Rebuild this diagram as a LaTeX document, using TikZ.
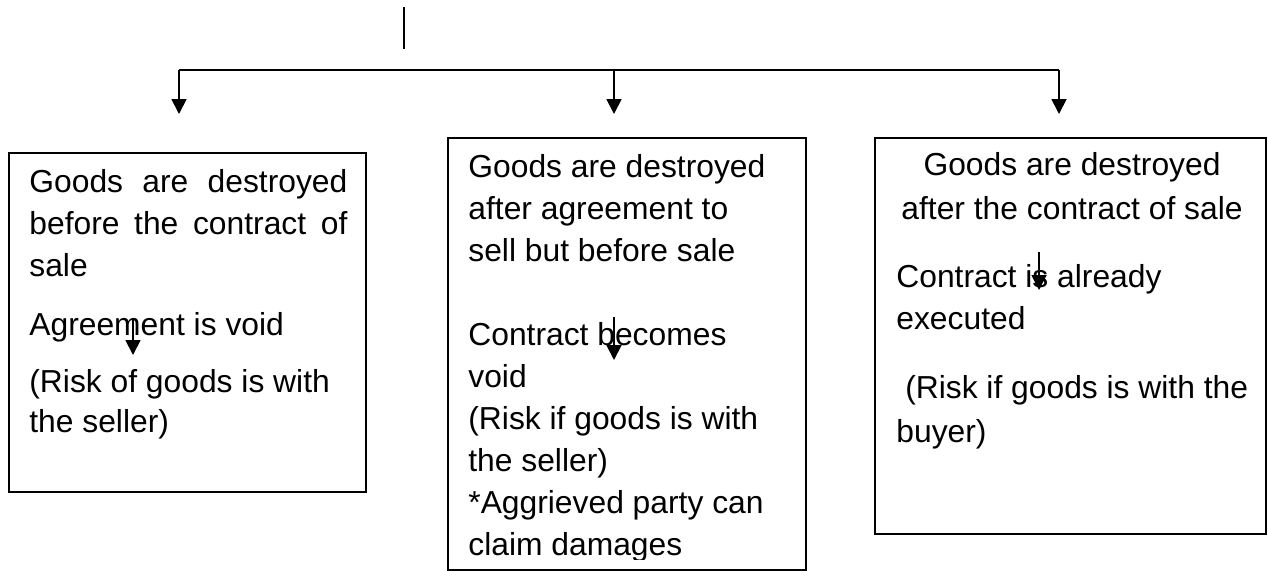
\documentclass[tikz,border=0pt]{standalone}
\usepackage{fontspec}
\setmainfont{Liberation Sans}
\usetikzlibrary{arrows.meta}

\tikzset{
  box/.style={draw, line width=0.9pt, inner sep=0pt, anchor=north west},
  txt/.style={inner sep=0pt, anchor=north west, align=flush left,
    font=\fontsize{15.9}{21}\selectfont},
  link/.style={line width=0.9pt},
  drop/.style={line width=0.9pt, -{Triangle[length=7.5pt,width=7.5pt]}}
}

\begin{document}
\begin{tikzpicture}[x=0.5pt,y=-0.5pt]
  \useasboundingbox (0,0) rectangle (1268,570);

  \coordinate (stem top) at (404,7);
  \coordinate (stem end) at (404,49);
  \draw [link] (stem top) -- (stem end);

  \foreach \x [count=\k] in {179,614,1059}
  {
    \coordinate (bar\k) at (\x,70);
    \coordinate (tip\k) at (\x,114);
  }
  \draw [link] (bar1) -- (bar3);
  \foreach \k in {1,2,3}
    \draw [drop] (bar\k) -- (tip\k);

  \node [box, minimum width=178.5pt, minimum height=169.5pt] (before) at (8,152) {};
  \node [box, minimum width=179pt, minimum height=216pt] (agreement) at (447,137) {};
  \node [box, minimum width=195.5pt, minimum height=198pt] (after) at (874,137) {};

  \node [txt, text width=159pt] (before text) at (29,169)
    {Goods\hfill are\hfill destroyed\\
     before\hfill the\hfill contract\hfill of\\
     sale\\[8.5pt]
     Agreement is void\\[7.5pt]
     (Risk of goods is with\\[-1pt]
     the seller)};

  \begin{scope}
    \clip (447,137) rectangle (805,559);
    \node [txt] (agreement text) at (468,154)
      {Goods are destroyed\\
       after agreement to\\
       sell but before sale\\[21pt]
       Contract becomes\\
       void\\
       (Risk if goods is with\\
       the seller)\\
       *Aggrieved party can\\
       claim damages};
  \end{scope}

  \node [txt, anchor=north, align=center] (after head) at (1072,152)
    {Goods are destroyed\\[1pt]
     after the contract of sale};
  \node [txt] (after text) at (896,264)
    {Contract is already\\
     executed\\[13.5pt]
     \hspace*{0.278em}(Risk if goods is with the\\[1pt]
     buyer)};

  % stray arrows over the text
  \foreach \x/\ya/\yb [count=\k] in {133/318/355, 614/317/360, 1039/252/290}
  {
    \coordinate (from\k) at (\x,\ya);
    \coordinate (to\k) at (\x,\yb);
    \draw [drop] (from\k) -- (to\k);
  }
\end{tikzpicture}
\end{document}
